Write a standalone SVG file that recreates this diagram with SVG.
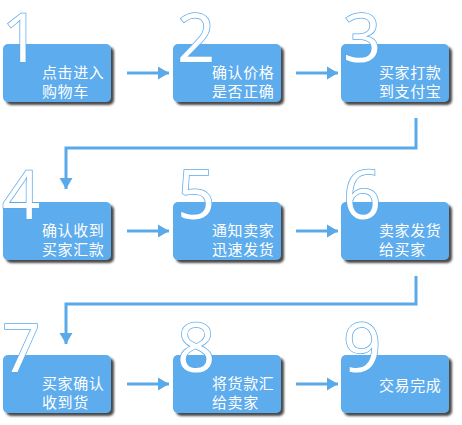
<svg xmlns="http://www.w3.org/2000/svg" width="462" height="425" viewBox="0 0 462 425">
<style>
.box{fill:#5daced;filter:url(#sh)}
.num{font-family:"Open Sans","DejaVu Sans",sans-serif;font-weight:400;font-size:67px;fill:#ffffff;stroke:#5aaaea;stroke-width:1.5;paint-order:stroke}
.lbl{font-family:"Noto Sans CJK SC","Noto Sans",sans-serif;font-size:15px;fill:#ffffff;letter-spacing:0.6px}
.con{fill:none;stroke:#5aaaea;stroke-width:3;marker-end:url(#ah)}
</style>
<defs>
<filter id="sh" x="-10%" y="-10%" width="125%" height="135%">
<feDropShadow dx="3" dy="3" stdDeviation="1.3" flood-color="#2a2a2a" flood-opacity="0.85"/>
</filter>
<marker id="ah" markerUnits="userSpaceOnUse" markerWidth="14" markerHeight="14" refX="11" refY="7" orient="auto">
<path d="M0,0.5 L11,7 L0,13.5 Z" fill="#5aaaea"/>
</marker>
</defs>
<g id="connectors">
<path class="con" d="M127,73 H169"/>
<path class="con" d="M296,73 H338"/>
<path class="con" d="M416,118 V148 H66 V189"/>
<path class="con" d="M127,231 H169"/>
<path class="con" d="M296,231 H338"/>
<path class="con" d="M416,276 V304 H66 V344"/>
<path class="con" d="M127,384 H169"/>
<path class="con" d="M296,384 H338"/>
</g>
<g id="n1"><rect class="box" x="3" y="44" width="108" height="58" rx="5"/><text class="num" x="2" y="62">1</text><text class="lbl" x="42" y="78">点击进入</text><text class="lbl" x="42" y="97">购物车</text></g>
<g id="n2"><rect class="box" x="173" y="44" width="108" height="58" rx="5"/><text class="num" x="177" y="62">2</text><text class="lbl" x="212" y="78">确认价格</text><text class="lbl" x="212" y="97">是否正确</text></g>
<g id="n3"><rect class="box" x="341" y="44" width="108" height="58" rx="5"/><text class="num" x="343" y="62">3</text><text class="lbl" x="379" y="78">买家打款</text><text class="lbl" x="379" y="97">到支付宝</text></g>
<g id="n4"><rect class="box" x="3" y="202" width="108" height="58" rx="5"/><text class="num" x="2" y="219">4</text><text class="lbl" x="42" y="236">确认收到</text><text class="lbl" x="42" y="255">买家汇款</text></g>
<g id="n5"><rect class="box" x="173" y="202" width="108" height="58" rx="5"/><text class="num" x="177" y="219">5</text><text class="lbl" x="212" y="236">通知卖家</text><text class="lbl" x="212" y="255">迅速发货</text></g>
<g id="n6"><rect class="box" x="341" y="202" width="108" height="58" rx="5"/><text class="num" x="343" y="219">6</text><text class="lbl" x="379" y="236">卖家发货</text><text class="lbl" x="379" y="255">给买家</text></g>
<g id="n7"><rect class="box" x="3" y="355" width="108" height="58" rx="5"/><text class="num" x="2" y="372">7</text><text class="lbl" x="42" y="389">买家确认</text><text class="lbl" x="42" y="408">收到货</text></g>
<g id="n8"><rect class="box" x="173" y="355" width="108" height="58" rx="5"/><text class="num" x="177" y="372">8</text><text class="lbl" x="212" y="389">将货款汇</text><text class="lbl" x="212" y="408">给卖家</text></g>
<g id="n9"><rect class="box" x="341" y="355" width="108" height="58" rx="5"/><text class="num" x="343" y="372">9</text><text class="lbl" x="379" y="391">交易完成</text></g>
</svg>
